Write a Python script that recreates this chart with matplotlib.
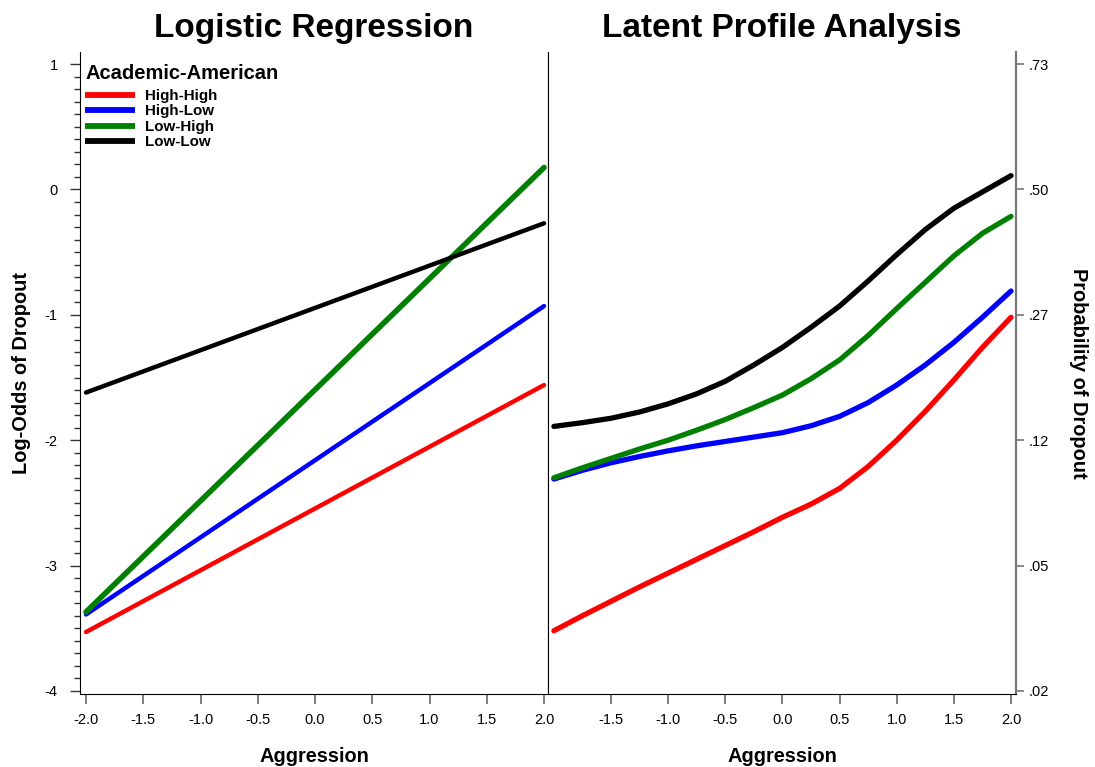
#/usr/bin/env python3

import matplotlib
matplotlib.use("Agg")
import matplotlib.pyplot as plt
import numpy as np

plt.rcParams['font.family'] = ['Liberation Sans', 'DejaVu Sans']

groups = ["High-High", "High-Low", "Low-High", "Low-Low"]
colors = ["#ff0000", "#0000ff", "#008000", "#000000"]
legend_title = "Academic-American"

# logistic regression: straight lines, log-odds at aggression -2 and 2
agg_lr = [-2.0, 2.0]
lr_high_high = [-3.53, -1.56]
lr_high_low = [-3.39, -0.93]
lr_low_high = [-3.37, 0.175]
lr_low_low = [-1.62, -0.27]

# latent profile analysis: log-odds
agg_lpa = [-2.0, -1.75, -1.5, -1.25, -1.0, -0.75, -0.5, -0.25, 0.0,
           0.25, 0.5, 0.75, 1.0, 1.25, 1.5, 1.75, 2.0]
lpa_high_high = [-3.52, -3.40, -3.285, -3.17, -3.06, -2.95, -2.84, -2.73, -2.615,
                 -2.51, -2.385, -2.21, -2.00, -1.77, -1.52, -1.26, -1.02]
lpa_high_low = [-2.31, -2.24, -2.18, -2.13, -2.085, -2.045, -2.01, -1.975, -1.94,
                -1.885, -1.81, -1.70, -1.56, -1.40, -1.22, -1.02, -0.81]
lpa_low_high = [-2.30, -2.22, -2.145, -2.07, -2.00, -1.92, -1.835, -1.74, -1.64,
                -1.51, -1.36, -1.165, -0.95, -0.74, -0.53, -0.35, -0.215]
lpa_low_low = [-1.89, -1.86, -1.825, -1.775, -1.71, -1.63, -1.53, -1.40, -1.26,
               -1.10, -0.93, -0.73, -0.52, -0.32, -0.15, -0.02, 0.11]

logodds_ticks = [1, 0, -1, -2, -3, -4]
x_ticks_left = [-2.0, -1.5, -1.0, -0.5, 0.0, 0.5, 1.0, 1.5, 2.0]
x_ticks_right = [-1.5, -1.0, -0.5, 0.0, 0.5, 1.0, 1.5, 2.0]

fig = plt.figure(figsize=(10.95, 7.67), dpi=100)
ax1 = fig.add_axes([0.0731, 0.0952, 0.4274, 0.8370])
ax2 = fig.add_axes([0.5005, 0.0952, 0.4274, 0.8370])

lr_series = [lr_high_high, lr_high_low, lr_low_high, lr_low_low]
lpa_series = [lpa_high_high, lpa_high_low, lpa_low_high, lpa_low_low]
lr_widths = [3.2, 3.2, 4.0, 3.2]

for g, c, vals, w in zip(groups, colors, lr_series, lr_widths):
    ax1.plot(agg_lr, vals, color=c, lw=w, solid_capstyle='round', label=g)
for g, c, vals in zip(groups, colors, lpa_series):
    ax2.plot(agg_lpa, vals, color=c, lw=3.8, solid_capstyle='round',
             solid_joinstyle='round')

for ax in (ax1, ax2):
    ax.set_ylim(-4.024, 1.096)
    ax.spines['top'].set_visible(False)
    ax.tick_params(axis='x', direction='out', length=7, width=1.2, color='#666666',
                   labelsize=10.5, pad=7)
    ax.set_xlabel("Aggression", fontsize=14.4, fontweight='bold', labelpad=14)

ax1.set_xlim(-2.052, 2.035)
ax2.set_xlim(-2.051, 2.044)
ax1.set_xticks(x_ticks_left)
ax1.set_xticklabels(["%.1f" % v for v in x_ticks_left])
ax2.set_xticks(x_ticks_right)
ax2.set_xticklabels(["%.1f" % v for v in x_ticks_right])

# left: log-odds with minor ticks
ax1.set_yticks(logodds_ticks)
ax1.set_yticklabels([str(v) for v in logodds_ticks])
ax1.set_yticks(np.arange(-4.0, 1.01, 0.1), minor=True)
ax1.tick_params(axis='y', which='major', direction='out', length=7, width=1.0,
                color='#333333', labelsize=10.5, pad=9)
ax1.tick_params(axis='y', which='minor', direction='out', length=4, width=1.0,
                color='#333333')
ax1.set_ylabel("Log-Odds of Dropout", fontsize=14.4, fontweight='bold', labelpad=10)

# right: same log-odds scale, labelled as probabilities
ax2.yaxis.tick_right()
ax2.set_yticks(logodds_ticks)
prob_labels = [("%.2f" % (1 / (1 + np.exp(-v))))[1:] for v in logodds_ticks]
ax2.set_yticklabels(prob_labels)
ax2.tick_params(axis='y', direction='out', length=6, width=1.2, color='#777777',
                labelsize=10.5, pad=3)
ax2.spines['right'].set_color('#777777')
ax2.spines['right'].set_linewidth(1.6)
ax2.yaxis.set_label_position('right')
ax2.set_ylabel("Probability of Dropout", fontsize=14.4, fontweight='bold',
               rotation=270, labelpad=28)

ax1.set_title("Logistic Regression", fontsize=24, fontweight='bold', pad=11)
ax2.set_title("Latent Profile Analysis", fontsize=24, fontweight='bold', pad=11)

# legend title as its own text, entries below it
ax1.text(0.0107, 0.966, legend_title, transform=ax1.transAxes, ha='left',
         va='center', fontsize=14.5, fontweight='bold')
leg = ax1.legend(loc='upper left', bbox_to_anchor=(0.0107, 0.9425), frameon=False,
                 prop={'weight': 'bold', 'size': 10.9}, handlelength=3.3,
                 handletextpad=0.65, labelspacing=0.1, borderaxespad=0.0,
                 borderpad=0.0)
for line in leg.get_lines():
    line.set_linewidth(4.2)
    line.set_solid_capstyle('butt')

fig.savefig("out.png", dpi=100)
